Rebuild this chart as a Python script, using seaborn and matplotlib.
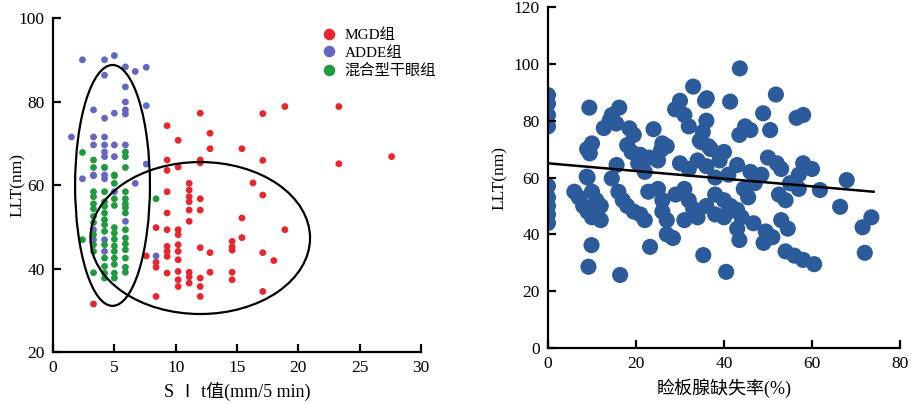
import numpy as np
import pandas as pd
import matplotlib
matplotlib.use("Agg")
import matplotlib.pyplot as plt
from matplotlib.patches import Ellipse
import seaborn as sns

# left panel: SIt vs LLT, three groups
mgd_x = [3.3, 7.6, 8.4, 8.4, 8.4, 8.4, 9.3, 9.3, 9.3, 9.3, 9.3, 9.3, 9.3, 9.3,
         10.2, 10.2, 10.2, 10.2, 10.2, 10.2, 10.2, 10.2,
         11.1, 11.1, 11.1, 11.1, 11.1, 11.1, 11.1, 11.1, 11.1,
         12.0, 12.0, 12.0, 12.0, 12.0, 12.0, 12.0, 12.0, 12.0,
         9.3, 10.2, 9.3, 10.2, 12.8, 12.8, 15.4, 17.1, 17.1, 18.9, 23.3, 23.3, 27.6,
         16.3, 17.1, 15.4, 18.9, 15.4, 14.6, 14.6, 14.6, 12.8, 17.1, 18.0, 12.8, 14.6, 14.6, 17.1]
mgd_y = [31.5, 43.0, 49.8, 41.5, 40.3, 33.3, 63.5, 58.4, 53.3, 49.3, 45.3, 44.1, 42.9, 38.9,
         49.3, 48.1, 45.7, 44.1, 42.1, 39.3, 37.3, 35.7,
         60.4, 58.8, 57.2, 56.0, 54.0, 51.3, 39.1, 38.0, 36.5,
         56.7, 54.0, 45.0, 37.7, 35.7, 33.3, 77.2, 66.0, 65.3,
         74.2, 70.7, 66.0, 64.3, 72.4, 68.7, 68.7, 65.9, 77.1, 78.8, 78.8, 65.1, 66.8,
         60.5, 57.6, 52.1, 49.3, 47.4, 46.5, 45.2, 44.4, 43.8, 43.8, 41.9, 39.1, 39.1, 37.3, 34.5]

adde_x = [2.4, 4.2, 5.0, 5.9, 6.7, 7.6, 4.2, 5.9, 5.9, 5.9, 5.9, 3.3, 5.0, 4.2, 7.6, 1.5,
          3.3, 4.2, 3.3, 4.2, 5.0, 5.9, 4.2, 4.2, 5.0, 7.6, 3.3, 4.2, 2.4, 3.3, 4.2, 4.2,
          6.7, 5.0, 5.9, 3.3, 3.3, 4.2, 4.2, 8.4]
adde_y = [90.0, 90.0, 91.0, 88.3, 87.2, 88.2, 86.3, 83.5, 79.9, 78.0, 77.0, 78.0, 77.2, 76.0, 79.0, 71.5,
          71.5, 71.5, 69.6, 69.6, 69.6, 69.6, 67.9, 66.8, 66.8, 65.0, 62.4, 62.4, 61.5, 62.2, 61.5, 64.2,
          60.4, 58.4, 51.3, 49.3, 46.9, 46.9, 44.1, 43.0]

mix_x = [2.4, 2.4,
         3.3, 3.3, 3.3, 3.3, 3.3, 3.3, 3.3, 3.3, 3.3, 3.3, 3.3, 3.3,
         4.2, 4.2, 4.2, 4.2, 4.2, 4.2, 4.2, 4.2, 4.2, 4.2, 4.2, 4.2, 4.2,
         5.0, 5.0, 5.0, 5.0, 5.0, 5.0, 5.0, 5.0, 5.0, 5.0, 5.0, 5.0, 5.0, 5.0,
         5.9, 5.9, 5.9, 5.9, 5.9, 5.9, 5.9, 5.9, 5.9, 5.9, 5.9, 5.9, 5.9, 5.9, 5.9, 8.4]
mix_y = [67.8, 46.9,
         58.4, 57.2, 55.5, 54.3, 52.5, 51.0, 48.1, 45.7, 44.1, 39.0, 64.2, 66.0,
         58.4, 56.0, 54.9, 53.3, 51.7, 50.5, 48.9, 45.7, 42.5, 40.5, 38.9, 37.7, 64.2,
         62.2, 60.4, 56.7, 55.1, 49.8, 48.5, 47.0, 45.4, 44.1, 42.5, 41.0, 38.9, 37.7, 62.4,
         67.9, 66.8, 64.2, 58.4, 56.7, 55.5, 54.6, 53.3, 49.3, 47.3, 45.9, 44.5, 42.5, 40.3, 39.1, 56.7]

group_names = ["MGD组", "ADDE组", "混合型干眼组"]
group_colors = ["#e8262d", "#6466c2", "#1f9a3f"]

# hand drawn ellipses: centre x, centre y, width, height
ellipse_a = [4.85, 59.9, 6.1, 57.7]
ellipse_b = [12.0, 47.3, 17.9, 36.4]

# right panel: gland dropout rate vs LLT
drop_x = [0, 0, 0, 0, 0, 0, 0, 0, 0,
          6, 7, 8, 9, 10, 9, 10, 11, 12, 11, 12,
          9.4, 16.2, 12.7, 14, 14.5, 15.5, 18.5, 19.5, 24, 8.9, 10, 9.5,
          18, 19, 21, 20.5, 23, 22, 25.7, 27, 25, 26,
          15.6, 14.5, 8.8, 16, 17, 18, 19.5, 21, 22, 22.8, 25, 26, 26, 27, 27, 29, 28.4,
          9.9, 9.2, 16.4, 23.2, 35.3,
          28.9, 30, 31, 32, 33, 35.7, 36, 34.8, 36.5,
          30, 32, 34, 36, 31, 32, 33, 34, 36, 31,
          43.6, 36.1, 41.4, 51.8, 48.9, 56.5, 58, 44.8, 43.5, 46, 50.5, 35.2, 34.5,
          37, 40, 39, 50, 52, 53, 58, 60, 57, 46, 48.5, 43, 67.9, 61.8, 52.5, 54, 44.5, 45.5, 38, 40, 41.5,
          66.4, 73.5, 71.5, 72, 46.7, 43, 43.5, 49.5, 51, 49, 53, 54.5, 54, 56, 58, 60.5, 40.5, 38, 40, 41, 43, 44,
          38, 41, 55, 57, 47]
llt_y = [89, 86, 82, 78, 57, 53, 50, 47, 44,
         55, 53, 50, 48, 46, 60, 55, 52, 50, 47, 45,
         84.6, 84.6, 77.4, 80, 82, 79, 77.3, 75, 77, 70, 72, 68.5,
         71.4, 69, 68, 65, 67, 62, 69.7, 71, 66, 72,
         64.4, 59.7, 60.3, 55, 52, 50, 48, 47, 45, 55, 56, 52, 48, 45, 40, 54, 38.7,
         36.2, 28.6, 25.7, 35.6, 32.7,
         84, 87, 82, 78, 92, 87, 80, 72.5, 71,
         65, 63, 66, 64, 56, 52, 49, 46, 50, 45,
         98.4, 87.9, 86.7, 89.2, 82.6, 81, 82, 78, 75, 76.7, 76.7, 76, 73,
         70, 69, 66, 67, 65, 63, 65, 63, 61, 62, 61, 64.4, 59.1, 55.6, 54, 52, 56, 53, 54, 52, 50,
         49.7, 46, 42.5, 33.5, 43.9, 42, 38, 41, 39, 37, 45, 42, 34, 32.5, 31, 29.5, 26.8, 47, 46, 48, 48.6, 46,
         60, 61, 58, 56, 58]

fit_x = [0, 74]
fit_y = [65, 55]

serif = ["Liberation Serif", "Noto Sans CJK SC"]
plt.rcParams["font.family"] = serif
plt.rcParams["axes.unicode_minus"] = False

left = pd.DataFrame({
    "SIt": mgd_x + adde_x + mix_x,
    "LLT": mgd_y + adde_y + mix_y,
    "group": [group_names[0]] * len(mgd_x) + [group_names[1]] * len(adde_x) + [group_names[2]] * len(mix_x),
})
right = pd.DataFrame({"drop": drop_x, "LLT": llt_y})

fig = plt.figure(figsize=(9.11, 4.04), dpi=100)
ax1 = fig.add_axes([0.0582, 0.1287, 0.404, 0.8267])
ax2 = fig.add_axes([0.6015, 0.1386, 0.3864, 0.844])

sns.scatterplot(data=left, x="SIt", y="LLT", hue="group", hue_order=group_names,
                palette=dict(zip(group_names, group_colors)), s=24, edgecolor="none", ax=ax1)
for e in [ellipse_a, ellipse_b]:
    ax1.add_patch(Ellipse((e[0], e[1]), e[2], e[3], fill=False, edgecolor="black", lw=1.6))
ax1.set_xlim(0, 30)
ax1.set_ylim(20, 100)
ax1.set_xticks(range(0, 31, 5))
ax1.set_yticks(range(20, 101, 20))
ax1.set_xlabel("S Ⅰ t值(mm/5 min)", fontsize=13)
ax1.set_ylabel("LLT(nm)", fontsize=12.5)
ax1.yaxis.set_label_coords(-0.075, 0.5)
ax1.legend(loc="upper left", bbox_to_anchor=(0.67, 1.01), frameon=False, fontsize=11,
           markerscale=1.7, handletextpad=0.05, labelspacing=0.25, title=None)

sns.scatterplot(data=right, x="drop", y="LLT", color="#2b5b9b", s=135, edgecolor="none", ax=ax2)
sns.lineplot(x=fit_x, y=fit_y, color="black", lw=1.8, ax=ax2)
ax2.set_xlim(0, 80)
ax2.set_ylim(0, 120)
ax2.set_xticks(range(0, 81, 20))
ax2.set_yticks(range(0, 121, 20))
ax2.set_xlabel("睑板腺缺失率(%)", fontsize=13)
ax2.set_ylabel("LLT(nm)", fontsize=12.5)
ax2.yaxis.set_label_coords(-0.115, 0.5)

for ax in [ax1, ax2]:
    sns.despine(ax=ax)
    ax.spines["left"].set_linewidth(1.6)
    ax.spines["bottom"].set_linewidth(1.6)
    ax.tick_params(direction="in", length=6, width=1.6, labelsize=12.5, pad=6)
    for lab in ax.get_xticklabels() + ax.get_yticklabels():
        lab.set_family(serif)

fig.savefig("out.png", dpi=100)
